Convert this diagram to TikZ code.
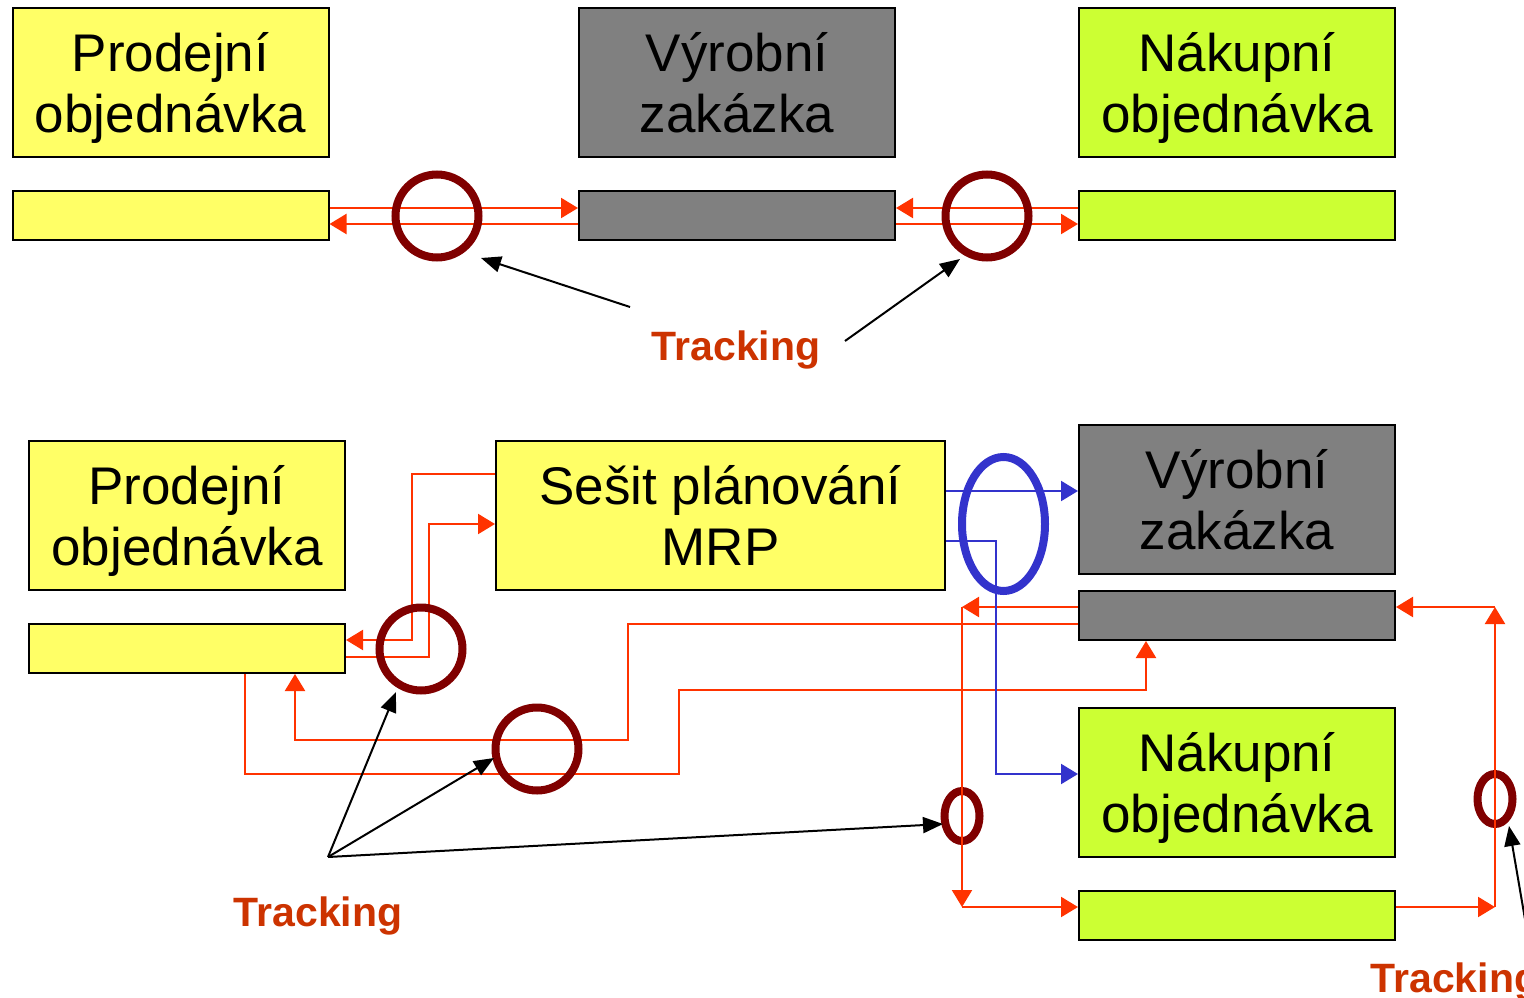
\documentclass[tikz,border=0pt]{standalone}
\usepackage{fontspec}
\setmainfont{Liberation Sans}
\usetikzlibrary{arrows.meta,shapes.geometric}
\definecolor{yel}{HTML}{FFFF66}
\definecolor{gry}{HTML}{808080}
\definecolor{grn}{HTML}{CCFF33}
\definecolor{lred}{HTML}{FF3300}
\definecolor{dred}{HTML}{800000}
\definecolor{blu}{HTML}{3333CC}
\definecolor{torange}{HTML}{CC3300}
\begin{document}
\begin{tikzpicture}[x=1pt,y=-1pt,
 box/.style={draw=black,line width=2pt,inner sep=0pt,minimum height=149pt,minimum width=316pt,align=center,text depth=0pt,font=\fontsize{53}{61}\selectfont},
 strip/.style={draw=black,line width=2pt,inner sep=0pt,minimum height=49pt,minimum width=316pt},
 rarr/.style={draw=lred,line width=2.2pt,-{Triangle[length=17pt,width=20pt]}},
 barr/.style={draw=blu,line width=2.2pt,-{Triangle[length=17pt,width=20pt]}},
 karr/.style={draw=black,line width=2pt,-{Triangle[length=20pt,width=16pt]}},
 ring/.style={draw=dred,line width=8pt,circle,inner sep=0pt,minimum size=83pt},
 oval/.style={draw=dred,line width=8pt,ellipse,inner sep=0pt,minimum width=35pt,minimum height=50pt},
 track/.style={text=torange,font=\bfseries\fontsize{41}{48}\selectfont}
]
\useasboundingbox (0,0) rectangle (1524,998);

% top row
\node[box,fill=yel] (po1) at (170.5,82.5) {Prodejní\\objednávka};
\node[box,fill=gry] (vz1) at (737,82.5) {Výrobní\\zakázka};
\node[box,fill=grn] (no1) at (1237,82.5) {Nákupní\\objednávka};
\node[strip,fill=yel] (po1s) at (170.5,215.5) {};
\node[strip,fill=gry] (vz1s) at (737,215.5) {};
\node[strip,fill=grn] (no1s) at (1237,215.5) {};

\draw[rarr] ([yshift=7.5pt]po1s.east) -- ([yshift=7.5pt]vz1s.west);
\draw[rarr] ([yshift=-8.5pt]vz1s.west) -- ([yshift=-8.5pt]po1s.east);
\draw[rarr] ([yshift=7.5pt]no1s.west) -- ([yshift=7.5pt]vz1s.east);
\draw[rarr] ([yshift=-8.5pt]vz1s.east) -- ([yshift=-8.5pt]no1s.west);

\node[ring] (r1) at (437,216) {};
\node[ring] (r2) at (987,216) {};

\node[track,anchor=base] (t1) at (736,360) {Tracking};
\coordinate (k1) at (630,307);
\coordinate (kt1) at (481,258);
\coordinate (k2) at (845,341);
\coordinate (kt2) at (960,259);
\draw[karr] (k1) -- (kt1);
\draw[karr] (k2) -- (kt2);

% bottom part
\node[box,fill=yel] (po2) at (187,515.5) {Prodejní\\objednávka};
\node[box,fill=yel,minimum width=449pt] (mrp) at (720.5,515.5) {Sešit plánování\\MRP};
\node[box,fill=gry] (vz2) at (1237,499.5) {Výrobní\\zakázka};
\node[box,fill=grn] (no2) at (1237,782.5) {Nákupní\\objednávka};
\node[strip,fill=yel] (po2s) at (187,648.5) {};
\node[strip,fill=gry] (vz2s) at (1237,615.5) {};
\node[strip,fill=grn] (no2s) at (1237,915.5) {};

\coordinate (a1) at (412,640);
\coordinate (a2) at (429,524);
\coordinate (b1) at (962,607);
\coordinate (b2) at (962,907);
\coordinate (d1) at (628,740);
\coordinate (d2) at (295,740);
\coordinate (e1) at (245,774);
\coordinate (e2) at (679,690);
\coordinate (e3) at (1146,690);
\coordinate (f1) at (1495,907);
\coordinate (f2) at (1495,607);
\coordinate (g1) at (996,774);

\node[oval] (s1) at (962,816) {};
\node[oval] (s2) at (1495,799) {};

\draw[rarr] ([yshift=41.5pt]mrp.west) -| (a1) -- ([yshift=8.5pt]po2s.east);
\draw[rarr] ([yshift=-8.5pt]po2s.east) -| (a2) -- ([yshift=-8.5pt]mrp.west);
\draw[rarr] ([yshift=8.5pt]vz2s.west) -- (b1);
\draw[rarr] (b1) -- (b2);
\draw[rarr] (b2) -- ([yshift=8.5pt]no2s.west);
\draw[rarr] ([yshift=-8.5pt]vz2s.west) -| (d1) -- (d2) -- (po2s.south -| d2);
\draw[rarr] (po2s.south -| e1) -- (e1) -| (e2) -- (e3) -- (vz2s.south -| e3);
\draw[rarr] ([yshift=8.5pt]no2s.east) -- (f1);
\draw[rarr] (f1) -- (f2);
\draw[rarr] (f2) -- ([yshift=8.5pt]vz2s.east);

\draw[barr] ([yshift=24.5pt]mrp.east) -- ([yshift=8.5pt]vz2.west);
\draw[barr] ([yshift=-25.5pt]mrp.east) -| (g1) -- ([yshift=8.5pt]no2.west);

\node[ring] (r3) at (421,649) {};
\node[ring] (r4) at (537,749) {};
\node[oval,draw=blu,minimum width=83pt,minimum height=134pt] (bo) at (1003.5,524) {};

\node[track,anchor=base] (t2) at (318,926) {Tracking};
\node[track,anchor=base west] (t3) at (1367,992) {Tracking};
\coordinate (k3) at (328,857);
\coordinate (kt3) at (396,692);
\coordinate (kt4) at (494,758);
\coordinate (kt5) at (943,824);
\coordinate (k4) at (1532,960);
\coordinate (kt6) at (1509,826);
\draw[karr] (k3) -- (kt3);
\draw[karr] (k3) -- (kt4);
\draw[karr] (k3) -- (kt5);
\draw[karr] (k4) -- (kt6);
\end{tikzpicture}
\end{document}
